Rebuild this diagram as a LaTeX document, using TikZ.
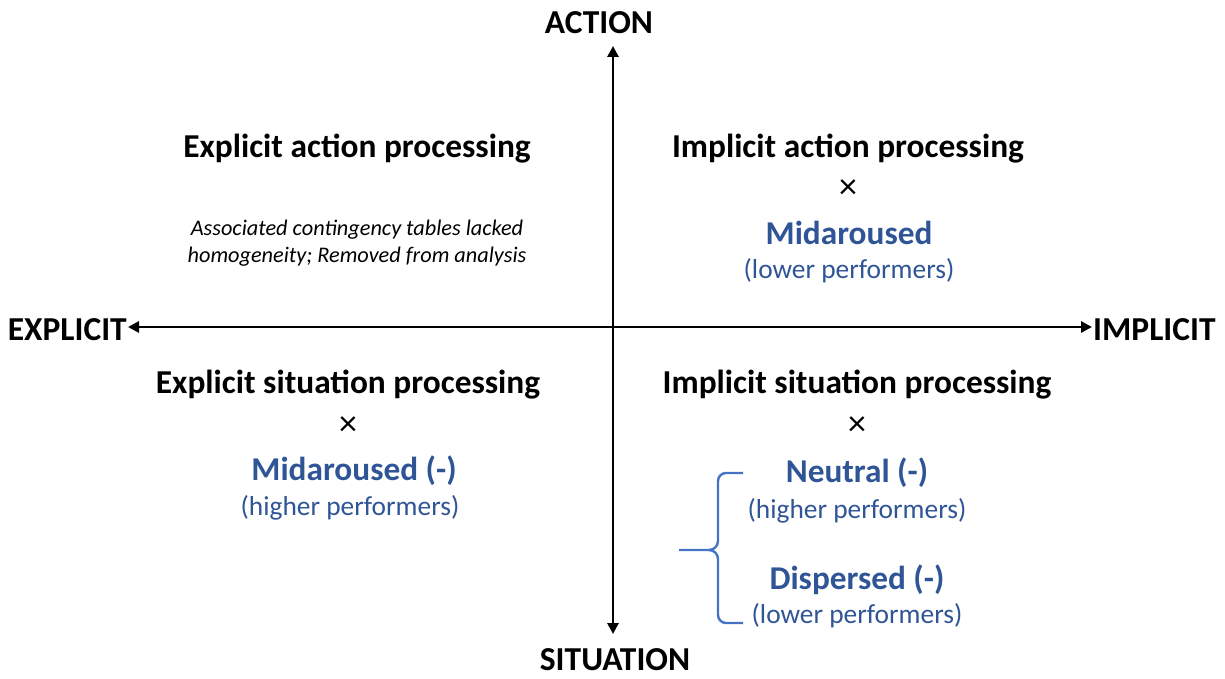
\documentclass[tikz,border=0pt]{standalone}
\usepackage{fontspec}
\setmainfont{Carlito}
\usetikzlibrary{arrows.meta}
\definecolor{tblue}{HTML}{2F5597}
\definecolor{bblue}{HTML}{4472C4}
\tikzset{
  axis/.style={line width=2.8pt, {Triangle[length=11pt,width=11pt]}-{Triangle[length=11pt,width=11pt]}},
  axlabel/.style={font=\fontsize{33.5}{36}\selectfont\bfseries, inner sep=0pt},
  head/.style={font=\fontsize{33.4}{36}\selectfont\bfseries, inner sep=0pt},
  note/.style={font=\fontsize{22.3}{27}\selectfont\itshape, align=center, inner sep=0pt},
  cross/.style={font=\fontsize{36}{36}\selectfont, inner sep=0pt},
  grp/.style={font=\fontsize{33.3}{36}\selectfont\bfseries, text=tblue, inner sep=0pt},
  perf/.style={font=\fontsize{27.4}{30}\selectfont, text=tblue, inner sep=0pt},
  brace/.style={draw=bblue, line width=2.4pt}
}
\begin{document}
\begin{tikzpicture}[x=1pt,y=-1pt]
\useasboundingbox (0,0) rectangle (1225,679);
% axis ends
\coordinate (top) at (613,46);
\coordinate (bot) at (613,634);
\coordinate (lft) at (128,327);
\coordinate (rgt) at (1092,327);
\draw[axis] (top) -- (bot);
\draw[axis] (lft) -- (rgt);
% axis labels
\node[axlabel] (action) at (599,23) {ACTION};
\node[axlabel] (situation) at (615,660) {SITUATION};
\node[axlabel, anchor=east] (explicit) at (127,330) {EXPLICIT};
\node[axlabel, anchor=west] (implicit) at (1093,330) {IMPLICIT};
% top left
\node[head] (eap) at (357,149) {Explicit action processing};
\node[note] (eapnote) at (357,243) {Associated contingency tables lacked\\homogeneity; Removed from analysis};
% top right
\node[head] (iap) at (848,149) {Implicit action processing};
\node[cross] (x1) at (848,189) {×};
\node[grp] (mid1) at (849,233) {Midaroused};
\node[perf] (low1) at (849,271) {(lower performers)};
% bottom left
\node[head] (esp) at (348,385) {Explicit situation processing};
\node[cross] (x2) at (348,426) {×};
\node[grp] (mid2) at (354,471) {Midaroused (-)};
\node[perf] (high2) at (350,508) {(higher performers)};
% bottom right
\node[head] (isp) at (857,385) {Implicit situation processing};
\node[cross] (x3) at (857,426) {×};
\node[grp] (neu) at (857,473) {Neutral (-)};
\node[perf] (high3) at (857,511) {(higher performers)};
\node[grp] (dis) at (857,580) {Dispersed (-)};
\node[perf] (low3) at (857,616) {(lower performers)};
% brace
\coordinate (bt) at (743,473);
\coordinate (bb) at (743,623);
\coordinate (bm) at (679,550);
\draw[brace] (bt) -- (726,473) to[out=180,in=90] (718,481) -- (718,541) to[out=-90,in=0] (709,550) -- (bm);
\draw[brace] (bb) -- (726,623) to[out=180,in=-90] (718,615) -- (718,559) to[out=90,in=0] (709,550);
\end{tikzpicture}
\end{document}
